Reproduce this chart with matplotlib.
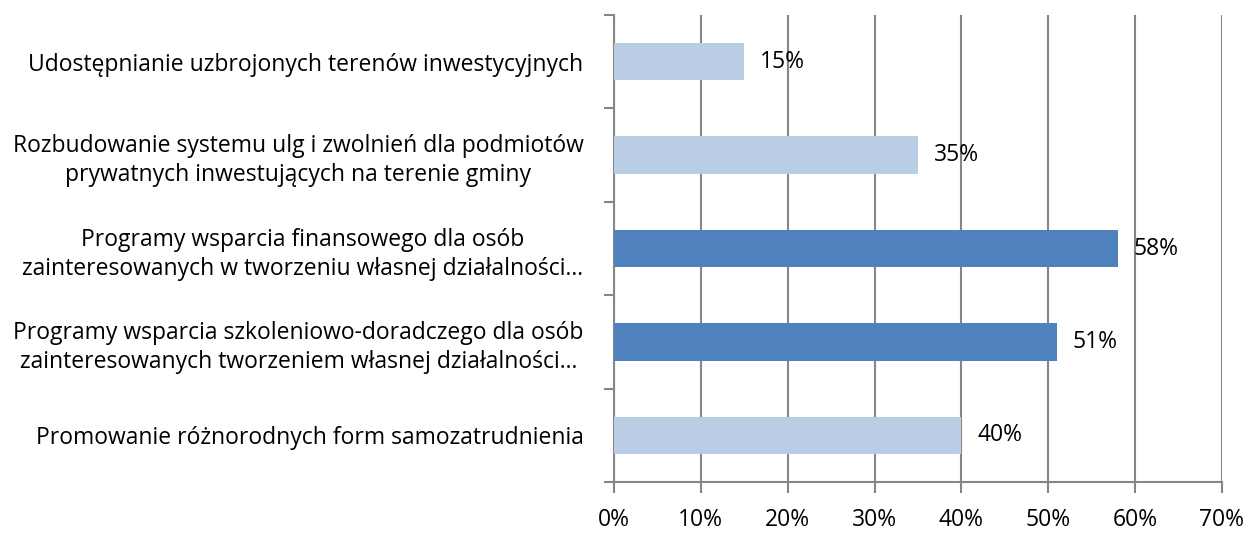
import matplotlib
matplotlib.use('Agg')
from matplotlib import pyplot as plt
import numpy as np

categories = [
    'Udostępnianie uzbrojonych terenów inwestycyjnych',
    'Rozbudowanie systemu ulg i zwolnień dla podmiotów\nprywatnych inwestujących na terenie gminy',
    'Programy wsparcia finansowego dla osób\nzainteresowanych w tworzeniu własnej działalności…',
    'Programy wsparcia szkoleniowo-doradczego dla osób\nzainteresowanych tworzeniem własnej działalności…',
    'Promowanie różnorodnych form samozatrudnienia',
]
values = [15, 35, 58, 51, 40]
highlight = [False, False, True, True, False]
x_ticks = [0, 10, 20, 30, 40, 50, 60, 70]

LIGHT = '#B9CDE5'
DARK = '#4F81BD'
GRID = '#868686'
FS = 16.5


def main():
    plt.rcParams['font.family'] = ['Open Sans', 'DejaVu Sans']
    fig = plt.figure(figsize=(12.44, 5.35), dpi=100)
    ax = fig.add_axes([0.4936, 0.099, 0.4887, 0.873])

    y = np.arange(len(categories))[::-1]
    colors = [DARK if h else LIGHT for h in highlight]
    ax.barh(y, values, height=0.4, color=colors, zorder=3)

    for yi, v in zip(y, values):
        ax.text(v + 1.8, yi, f'{v}%', va='center', ha='left', fontsize=FS, color='black', zorder=4)

    ax.set_xlim(0, 70)
    ax.set_ylim(-0.5, len(categories) - 0.5)
    ax.set_xticks(x_ticks)
    ax.set_xticklabels([f'{t}%' for t in x_ticks], fontsize=FS)
    ax.set_yticks(y)
    ax.set_yticklabels(categories, fontsize=FS, multialignment='center', linespacing=1.3)
    ax.set_yticks(np.arange(len(categories) + 1) - 0.5, minor=True)

    ax.tick_params(axis='y', which='major', length=0, pad=22)
    ax.tick_params(axis='y', which='minor', length=7, color=GRID, width=1.5)
    ax.tick_params(axis='x', which='major', length=8, color=GRID, width=1.5, pad=11)

    ax.grid(axis='x', color=GRID, linewidth=1.5, zorder=1)
    for side in ['top', 'right']:
        ax.spines[side].set_visible(False)
    for side in ['left', 'bottom']:
        ax.spines[side].set_color(GRID)
        ax.spines[side].set_linewidth(1.5)

    fig.savefig('out.png', dpi=100)


if __name__ == '__main__':
    main()
